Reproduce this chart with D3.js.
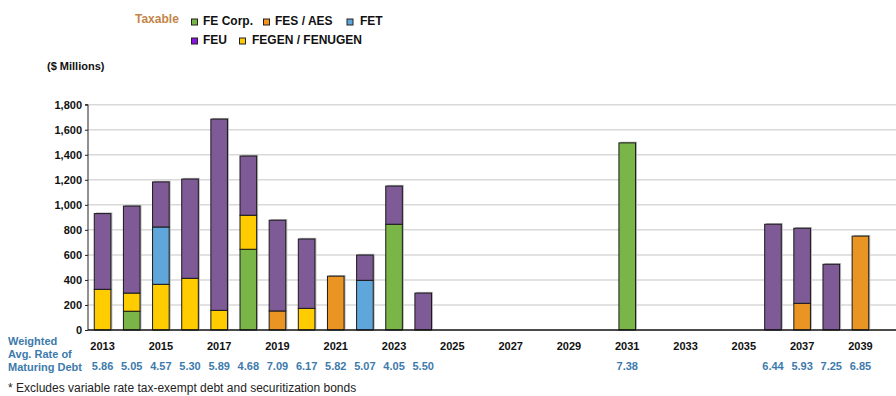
<!DOCTYPE html>
<html>
<head>
<meta charset="utf-8">
<script src="https://cdn.jsdelivr.net/npm/d3@7"></script>
<style>
  html, body { margin: 0; padding: 0; background: #fff; }
  svg { display: block; font-family: "Liberation Sans", Arial, sans-serif; }
</style>
</head>
<body>
<svg id="chart" width="896" height="396"></svg>
<script>
// Debt maturity schedule by issuer ($ millions)
const years = d3.range(2013, 2040).map(String);
const feCorp = { "2014": 150, "2018": 645, "2023": 845, "2031": 1495 };
const fesAes = { "2019": 152, "2021": 430, "2037": 213, "2039": 750 };
const fet    = { "2015": 458, "2022": 397 };
const fegen  = { "2013": 325, "2014": 145, "2015": 365, "2016": 413, "2017": 157, "2018": 272, "2020": 173 };
const feu    = { "2013": 605, "2014": 695, "2015": 360, "2016": 793, "2017": 1528, "2018": 473,
                 "2019": 725, "2020": 554, "2022": 202, "2023": 305, "2024": 295,
                 "2036": 845, "2037": 600, "2038": 525 };
// stacking order bottom → top
const seriesKeys = ["FE Corp.", "FES / AES", "FEGEN / FENUGEN", "FET", "FEU"];
const seriesData = { "FE Corp.": feCorp, "FES / AES": fesAes, "FET": fet, "FEGEN / FENUGEN": fegen, "FEU": feu };
const barColors = { "FE Corp.": "#7ab547", "FES / AES": "#ea9424", "FET": "#5fa7da", "FEGEN / FENUGEN": "#ffcc00", "FEU": "#7e5a96" };
const legendColors = { "FE Corp.": "#7ab547", "FES / AES": "#f7941d", "FET": "#5fa7da", "FEU": "#8a14e0", "FEGEN / FENUGEN": "#ffcc00" };
const rates = { "2013": "5.86", "2014": "5.05", "2015": "4.57", "2016": "5.30", "2017": "5.89", "2018": "4.68",
                "2019": "7.09", "2020": "6.17", "2021": "5.82", "2022": "5.07", "2023": "4.05", "2024": "5.50",
                "2031": "7.38", "2036": "6.44", "2037": "5.93", "2038": "7.25", "2039": "6.85" };
const yTicks = [0, 200, 400, 600, 800, 1000, 1200, 1400, 1600, 1800];

const svg = d3.select("#chart");
const plotLeft = 88, plotRight = 875, plotTop = 104.7, plotBottom = 330, gridRight = 896;

const x = d3.scaleBand().domain(years).range([plotLeft, plotRight]).paddingInner(0.43).paddingOuter(0.215);
const y = d3.scaleLinear().domain([0, 1800]).range([plotBottom, plotTop]);

// gridlines
svg.append("g").selectAll("line").data(yTicks.filter(d => d > 0)).join("line")
  .attr("x1", plotLeft).attr("x2", gridRight)
  .attr("y1", d => y(d)).attr("y2", d => y(d))
  .attr("stroke", "#d9d9d9").attr("stroke-width", 1.5);

// stacked bars
const table = years.map(yr => {
  const row = { year: yr };
  seriesKeys.forEach(k => row[k] = seriesData[k][yr] || 0);
  return row;
});
const stacked = d3.stack().keys(seriesKeys)(table);

// soft shadow behind each full bar
const totals = table.map(r => ({ year: r.year, total: d3.sum(seriesKeys, k => r[k]) })).filter(d => d.total > 0);
svg.append("g").selectAll("rect").data(totals).join("rect")
  .attr("x", d => x(d.year) + 1.5).attr("y", d => y(d.total) - 1.2)
  .attr("width", x.bandwidth()).attr("height", d => y(0) - y(d.total))
  .attr("fill", "#b8b8b8");

svg.append("g").selectAll("g").data(stacked).join("g")
  .attr("fill", s => barColors[s.key])
  .selectAll("rect").data(s => s.filter(d => d[1] > d[0])).join("rect")
  .attr("x", d => x(d.data.year)).attr("y", d => y(d[1]))
  .attr("width", x.bandwidth()).attr("height", d => y(d[0]) - y(d[1]))
  .attr("stroke", "#1a1a1a").attr("stroke-width", 1);

// y axis
const yAxis = d3.axisLeft(y).tickValues(yTicks).tickSize(3).tickPadding(3).tickFormat(d3.format(","));
const gy = svg.append("g").attr("transform", `translate(${plotLeft},0)`).call(yAxis);
gy.select(".domain").attr("stroke", "#222").attr("d", `M-3,${plotTop}H0V${plotBottom}`);
gy.selectAll(".tick line").attr("stroke", "#222");
gy.selectAll(".tick text").attr("font-size", 11).attr("font-weight", "bold").attr("fill", "#111")
  .attr("font-family", "Liberation Sans, Arial, sans-serif");

// baseline
svg.append("line").attr("x1", plotLeft).attr("x2", gridRight).attr("y1", plotBottom).attr("y2", plotBottom)
  .attr("stroke", "#111").attr("stroke-width", 1.5);

// year labels (odd years)
svg.append("g").selectAll("text").data(years.filter(yr => +yr % 2 === 1)).join("text")
  .attr("x", yr => x(yr) + x.bandwidth() / 2).attr("y", 350)
  .attr("text-anchor", "middle").attr("font-size", 11).attr("font-weight", "bold").attr("fill", "#111")
  .text(yr => yr);

// weighted average rate row
const rateBlue = "#3d7aac";
svg.append("g").selectAll("text").data(years.filter(yr => rates[yr])).join("text")
  .attr("x", yr => x(yr) + x.bandwidth() / 2).attr("y", 370)
  .attr("text-anchor", "middle").attr("font-size", 11).attr("font-weight", "bold").attr("fill", rateBlue)
  .text(yr => rates[yr]);
const rowTitle = svg.append("text").attr("font-size", 11).attr("font-weight", "bold").attr("fill", rateBlue);
[["Weighted", 345], ["Avg. Rate of", 358], ["Maturing Debt", 371]].forEach(([t, yy]) =>
  rowTitle.append("tspan").attr("x", 8).attr("y", yy).text(t));

// footnote
svg.append("text").attr("x", 8).attr("y", 392).attr("font-size", 12).attr("fill", "#222")
  .text("* Excludes variable rate tax-exempt debt and securitization bonds");

// units label
svg.append("text").attr("x", 47).attr("y", 70).attr("font-size", 11).attr("font-weight", "bold").attr("fill", "#111")
  .text("($ Millions)");

// legend
svg.append("text").attr("x", 135).attr("y", 23).attr("font-size", 12).attr("font-weight", "bold").attr("fill", "#c4854a")
  .text("Taxable");
const legendItems = [
  { key: "FE Corp.", sx: 191.5, tx: 203, y: 19 },
  { key: "FES / AES", sx: 263.5, tx: 275, y: 19 },
  { key: "FET", sx: 347, tx: 360, y: 19 },
  { key: "FEU", sx: 191.5, tx: 203, y: 38 },
  { key: "FEGEN / FENUGEN", sx: 239.5, tx: 252, y: 38 }
];
const lg = svg.append("g").selectAll("g").data(legendItems).join("g");
lg.append("rect").attr("x", d => d.sx).attr("y", d => d.y).attr("width", 6).attr("height", 6)
  .attr("fill", d => legendColors[d.key]).attr("stroke", "#222").attr("stroke-width", 1);
lg.append("text").attr("x", d => d.tx).attr("y", d => d.y + 5.5)
  .attr("font-size", 12).attr("font-weight", "bold").attr("fill", "#111").text(d => d.key);
</script>
</body>
</html>
